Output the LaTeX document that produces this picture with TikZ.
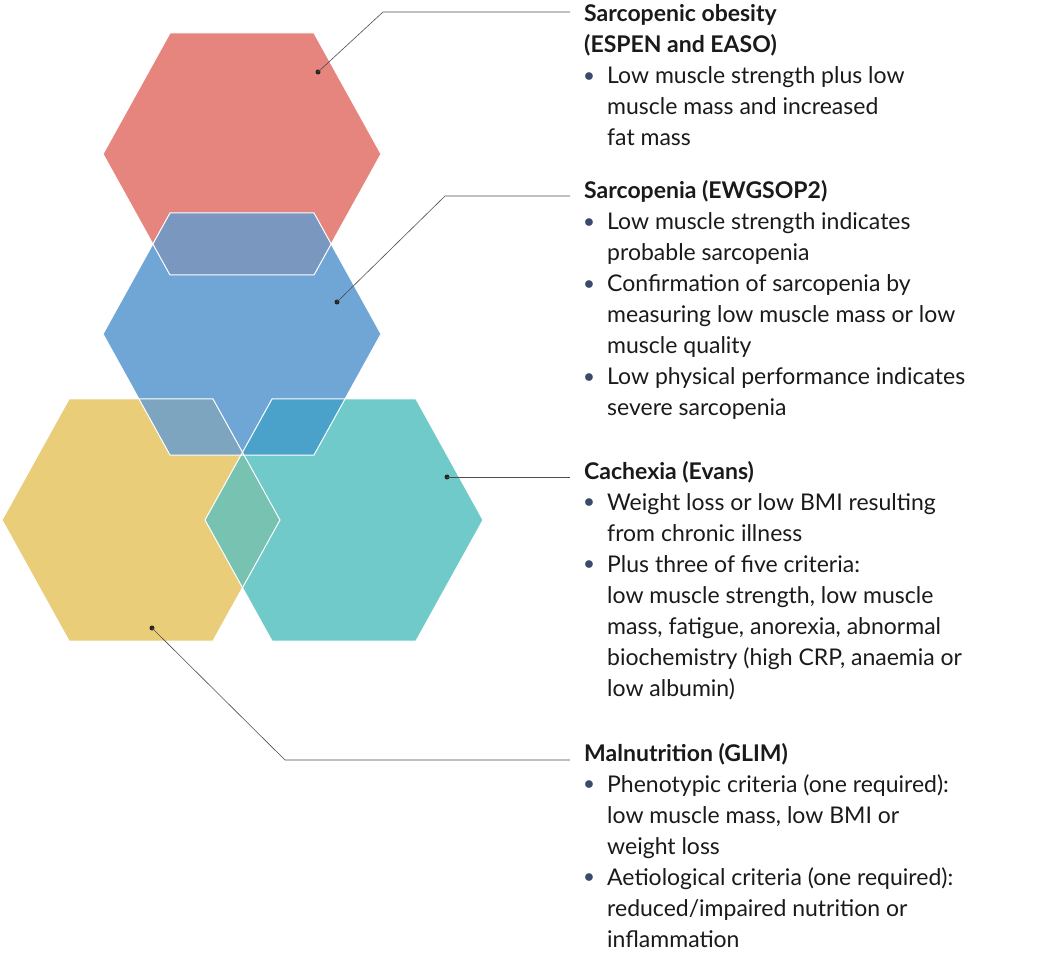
\documentclass[tikz,border=0pt]{standalone}
\usepackage{fontspec}
\setmainfont{Lato}
\usetikzlibrary{positioning}
\definecolor{hexred}{HTML}{E5857E}
\definecolor{hexblue}{HTML}{6FA6D6}
\definecolor{hexyellow}{HTML}{E9CD78}
\definecolor{hexteal}{HTML}{6FCAC9}
\definecolor{redblue}{HTML}{7A97C0}
\definecolor{blueyellow}{HTML}{7EA5C0}
\definecolor{blueteal}{HTML}{4AA2CB}
\definecolor{yellowteal}{HTML}{77C2B0}
\definecolor{dotc}{HTML}{3A4A6B}
\definecolor{textc}{HTML}{1A1A1A}
\newcommand{\hexpath}[2]{(#1-139,#2) -- (#1-72,#2-121) -- (#1+72,#2-121) -- (#1+139,#2) -- (#1+72,#2+121) -- (#1-72,#2+121) -- cycle}
\newcommand{\bul}{\textcolor{dotc}{\raisebox{0.12em}{\scalebox{0.8}{$\bullet$}}}}
\begin{document}
\begin{tikzpicture}[
      x=1pt, y=-1pt,
      hexfill/.style={draw=white, line width=1pt},
      leader/.style={draw=black!70, line width=0.6pt},
      pin/.style={circle, fill=black!85, inner sep=0pt, minimum size=5pt},
      block/.style={anchor=base west, inner sep=0pt, text=textc,
          font=\fontsize{23}{31}\selectfont}
    ]
    \useasboundingbox (0,0) rectangle (1055,957);

    % Hexagons
    \fill[hexred] \hexpath{242}{154};
    \fill[hexblue] \hexpath{242}{334};
    \fill[hexyellow] \hexpath{141}{520};
    \fill[hexteal] \hexpath{344}{520};

    % Overlaps
    \begin{scope}
      \clip \hexpath{242}{154};
      \fill[redblue] \hexpath{242}{334};
    \end{scope}
    \begin{scope}
      \clip \hexpath{242}{334};
      \fill[blueyellow] \hexpath{141}{520};
    \end{scope}
    \begin{scope}
      \clip \hexpath{242}{334};
      \fill[blueteal] \hexpath{344}{520};
    \end{scope}
    \begin{scope}
      \clip \hexpath{141}{520};
      \fill[yellowteal] \hexpath{344}{520};
    \end{scope}

    % Outlines
    \draw[hexfill] \hexpath{242}{154};
    \draw[hexfill] \hexpath{242}{334};
    \draw[hexfill] \hexpath{141}{520};
    \draw[hexfill] \hexpath{344}{520};

    % Pins
    \node[pin] (pinred) at (318,72) {};
    \node[pin] (pinblue) at (337,302) {};
    \node[pin] (pinteal) at (447,477) {};
    \node[pin] (pinyellow) at (152,628) {};
    \coordinate (bendred) at (383,12);
    \coordinate (endred) at (570,12);
    \coordinate (bendblue) at (445,196);
    \coordinate (endblue) at (570,196);
    \coordinate (endteal) at (570,477);
    \coordinate (bendyellow) at (285,760);
    \coordinate (endyellow) at (570,760);

    % Leaders
    \draw[leader] (pinred.center) -- (bendred) -- (endred);
    \draw[leader] (pinblue.center) -- (bendblue) -- (endblue);
    \draw[leader] (pinteal.center) -- (endteal);
    \draw[leader] (pinyellow.center) -- (bendyellow) -- (endyellow);

    % Texts
    \node[block] (txtred) at (584,22) {\begin{tabular}[t]{@{}p{23pt}@{}l@{}}
      \multicolumn{2}{@{}l@{}}{\bfseries Sarcopenic obesity}\\
      \multicolumn{2}{@{}l@{}}{\bfseries (ESPEN and EASO)}\\
      \bul & Low muscle strength plus low\\
      & muscle mass and increased\\
      & fat mass
    \end{tabular}};
    \node[block] (txtblue) at (584,199) {\begin{tabular}[t]{@{}p{23pt}@{}l@{}}
      \multicolumn{2}{@{}l@{}}{\bfseries Sarcopenia (EWGSOP2)}\\
      \bul & Low muscle strength indicates\\
      & probable sarcopenia\\
      \bul & Confirmation of sarcopenia by\\
      & measuring low muscle mass or low\\
      & muscle quality\\
      \bul & Low physical performance indicates\\
      & severe sarcopenia
    \end{tabular}};
    \node[block] (txtteal) at (584,479) {\begin{tabular}[t]{@{}p{23pt}@{}l@{}}
      \multicolumn{2}{@{}l@{}}{\bfseries Cachexia (Evans)}\\
      \bul & Weight loss or low BMI resulting\\
      & from chronic illness\\
      \bul & Plus three of five criteria:\\
      & low muscle strength, low muscle\\
      & mass, fatigue, anorexia, abnormal\\
      & biochemistry (high CRP, anaemia or\\
      & low albumin)
    \end{tabular}};
    \node[block] (txtyellow) at (584,761) {\begin{tabular}[t]{@{}p{23pt}@{}l@{}}
      \multicolumn{2}{@{}l@{}}{\bfseries Malnutrition (GLIM)}\\
      \bul & Phenotypic criteria (one required):\\
      & low muscle mass, low BMI or\\
      & weight loss\\
      \bul & Aetiological criteria (one required):\\
      & reduced/impaired nutrition or\\
      & inflammation
    \end{tabular}};
  \end{tikzpicture}
\end{document}
